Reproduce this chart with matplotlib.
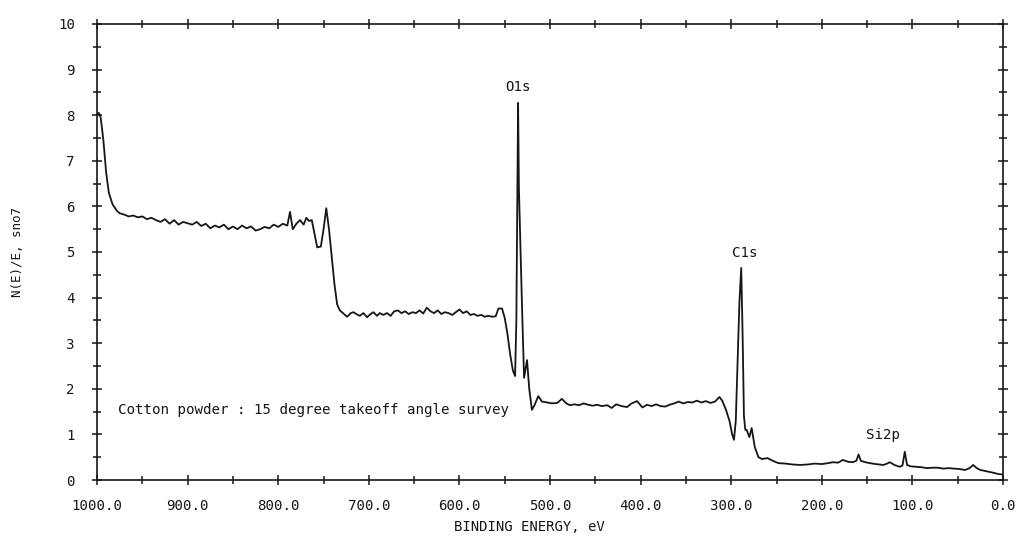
import matplotlib
matplotlib.use("Agg")
import matplotlib.pyplot as plt
from matplotlib.ticker import MultipleLocator, FormatStrFormatter
import numpy as np

# --- XPS survey of cotton powder, 15 degree takeoff ---------------------------
# secondary-electron tail and O KLL Auger region (eV, N(E)/E)
be_tail = [1000, 998, 996, 993, 990, 987, 983, 978, 975, 970, 965, 960, 955, 950,
           945, 940, 935, 930, 925, 920, 915, 910, 905, 900, 895, 890, 885, 880,
           875, 870, 865, 860, 855, 850, 845, 840, 835, 830, 825, 820, 815, 810,
           805, 800, 795, 790, 787, 784, 780, 776, 772, 769, 766, 763, 760, 757,
           753, 750, 747, 744, 741, 738, 735]
ne_tail = [8.00, 8.05, 7.95, 7.45, 6.75, 6.30, 6.05, 5.90, 5.85, 5.82, 5.78, 5.80,
           5.76, 5.78, 5.72, 5.75, 5.70, 5.66, 5.72, 5.62, 5.70, 5.60, 5.66, 5.63,
           5.60, 5.66, 5.57, 5.62, 5.52, 5.58, 5.54, 5.60, 5.50, 5.56, 5.50, 5.58,
           5.52, 5.56, 5.47, 5.50, 5.55, 5.52, 5.60, 5.55, 5.62, 5.58, 5.88, 5.50,
           5.62, 5.70, 5.60, 5.75, 5.68, 5.70, 5.40, 5.10, 5.12, 5.50, 5.96, 5.50,
           4.90, 4.30, 3.85]

# background between O KLL and O 1s, then the O 1s peak
be_o1s = [732, 728, 724, 720, 717, 713, 710, 706, 702, 698, 695, 691, 688, 684,
          680, 676, 672, 668, 664, 660, 656, 652, 648, 644, 640, 636, 632, 628,
          624, 620, 616, 612, 608, 604, 600, 596, 592, 588, 584, 580, 576, 572,
          568, 564, 560, 557, 553, 550, 547, 544, 541, 538.6, 537.2, 536.2, 535.3,
          534.4, 533.5, 531, 528.7, 525.4, 523, 520, 517, 513]
ne_o1s = [3.72, 3.65, 3.58, 3.66, 3.68, 3.63, 3.60, 3.66, 3.57, 3.64, 3.68, 3.60,
          3.66, 3.62, 3.66, 3.60, 3.70, 3.72, 3.66, 3.70, 3.64, 3.68, 3.66, 3.72,
          3.65, 3.78, 3.70, 3.66, 3.72, 3.64, 3.68, 3.66, 3.62, 3.68, 3.74, 3.66,
          3.70, 3.62, 3.64, 3.60, 3.62, 3.58, 3.60, 3.58, 3.59, 3.76, 3.76, 3.55,
          3.20, 2.75, 2.40, 2.28, 3.50, 6.00, 8.27, 6.40, 5.70, 3.84, 2.24, 2.63,
          2.00, 1.54, 1.65, 1.84]

# background between O 1s and C 1s, then the C 1s peak
be_c1s = [509, 503, 498, 492, 487, 482, 478, 473, 468, 463, 458, 453, 448, 443,
          437, 432, 427, 421, 415, 410, 404, 398, 393, 388, 383, 378, 373, 368,
          363, 358, 353, 348, 343, 338, 333, 328, 323, 318, 313, 310, 306, 302,
          299, 297, 295, 293, 291, 289, 287.5, 286, 284.5, 283, 280, 277.5, 274,
          270]
ne_c1s = [1.72, 1.70, 1.68, 1.69, 1.78, 1.68, 1.64, 1.66, 1.64, 1.68, 1.65, 1.63,
          1.65, 1.62, 1.64, 1.58, 1.66, 1.62, 1.60, 1.68, 1.73, 1.59, 1.65, 1.62,
          1.66, 1.62, 1.61, 1.65, 1.68, 1.72, 1.68, 1.71, 1.70, 1.74, 1.70, 1.73,
          1.69, 1.72, 1.82, 1.74, 1.55, 1.30, 1.00, 0.88, 1.30, 2.60, 3.90, 4.65,
          3.20, 1.40, 1.10, 1.10, 0.94, 1.14, 0.72, 0.50]

# valence / low binding energy region with Si 2p
be_low = [266, 260, 254, 248, 240, 232, 224, 216, 208, 200, 193, 188, 182, 177,
          171, 166, 162, 159.5, 157, 152, 147, 141, 136, 132, 128, 125, 120, 114,
          111, 108.5, 106, 102, 96, 90, 84, 78, 72, 66, 60, 54, 48, 42, 37, 33,
          29, 25, 18, 11, 5, 0]
ne_low = [0.46, 0.48, 0.42, 0.37, 0.36, 0.34, 0.33, 0.34, 0.36, 0.35, 0.37, 0.39,
          0.38, 0.44, 0.40, 0.39, 0.42, 0.56, 0.42, 0.39, 0.37, 0.35, 0.34, 0.33,
          0.36, 0.39, 0.33, 0.29, 0.32, 0.62, 0.33, 0.30, 0.29, 0.28, 0.26, 0.27,
          0.27, 0.25, 0.26, 0.25, 0.24, 0.22, 0.26, 0.33, 0.26, 0.22, 0.19, 0.16,
          0.13, 0.12]

peak_names = ["O1s", "C1s", "Si2p"]
peak_label_be = [535, 285, 132]
peak_label_ne = [8.62, 4.98, 0.99]

x_major = [1000, 900, 800, 700, 600, 500, 400, 300, 200, 100, 0]

binding_energy = np.concatenate([be_tail, be_o1s, be_c1s, be_low])
intensity = np.concatenate([ne_tail, ne_o1s, ne_c1s, ne_low])

plt.rcParams["font.family"] = ["DejaVu Sans Mono"]
ink = "#161616"

fig = plt.figure(figsize=(10.27, 5.38), dpi=100)
ax = fig.add_axes([0.0945, 0.1078, 0.8822, 0.8476])

ax.plot(binding_energy, intensity, color=ink, lw=1.3, solid_joinstyle="round")

ax.set_xlim(1000, 0)
ax.set_ylim(0, 10)
ax.set_xticks(x_major)
ax.xaxis.set_major_formatter(FormatStrFormatter("%.1f"))
ax.xaxis.set_minor_locator(MultipleLocator(50))
ax.yaxis.set_major_locator(MultipleLocator(1))
ax.yaxis.set_minor_locator(MultipleLocator(0.5))

for s in ax.spines.values():
    s.set_linewidth(1.2)
    s.set_color(ink)

ax.tick_params(which="both", direction="inout", top=True, right=True,
               color=ink, width=1.1, labelcolor=ink, labelsize=10.2)
ax.tick_params(which="major", length=7)
ax.tick_params(which="minor", length=6)
ax.tick_params(axis="x", which="major", pad=10.5)
ax.tick_params(axis="y", which="major", pad=12.5)

ax.set_xlabel("BINDING ENERGY, eV", fontsize=10, color=ink)
ax.xaxis.set_label_coords(0.477, -0.088)
ax.set_ylabel("N(E)/E, sno7", fontsize=9, color=ink)
ax.yaxis.set_label_coords(-0.081, 0.5)

for name, xb, yn in zip(peak_names, peak_label_be, peak_label_ne):
    ax.text(xb, yn, name, ha="center", va="center", fontsize=10.2, color=ink)

ax.text(977, 1.54, "Cotton powder : 15 degree takeoff angle survey",
        ha="left", va="center", fontsize=10.2, color=ink)

fig.savefig("out.png", dpi=100, facecolor="white")
